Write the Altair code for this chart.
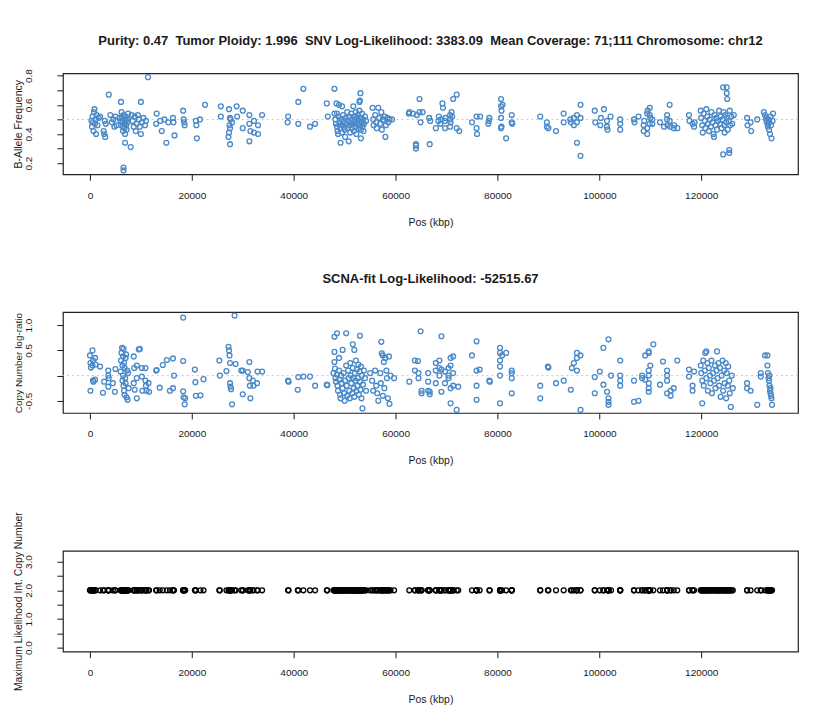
import altair as alt
import pandas as pd

NB = "\u00a0"
TITLE_TOP = ("Purity: 0.47" + NB + " Tumor Ploidy: 1.996" + NB + " SNV Log-Likelihood: 3383.09" + NB
             + " Mean Coverage: 71;111 Chromosome: chr12")
TITLE_MID = "SCNA-fit Log-Likelihood: -52515.67"
X_TITLE = "Pos (kbp)"
Y_TITLES = ["B-Allele Frequency", "Copy Number log-ratio", "Maximum Likelihood Int. Copy Number"]

x_ticks = [0, 20000, 40000, 60000, 80000, 100000, 120000]
baf_ticks = [0.2, 0.3, 0.4, 0.5, 0.6, 0.7, 0.8]
lr_ticks = [-0.5, 0.0, 0.5, 1.0]
cn_ticks = [0.0, 0.5, 1.0, 1.5, 2.0, 2.5, 3.0]

# B-allele frequency points (position kbp, value)
baf_pos = [
    300, 400, 500, 600, 700, 800, 900, 1000, 1100, 1200, 1300, 1500, 1700, 2000, 2700, 2800, 3000, 3100, 2900,
    3700, 4000, 4300, 4600, 5000, 5200, 4800, 5800, 6000, 6100, 6100, 6200, 6300, 6400, 6500, 6500, 6600, 6700,
    6800, 6800, 6900, 7000, 7000, 7100, 7200, 7300, 7400, 7500, 6900, 6600, 6600, 8000, 8200, 8400, 8600, 8800,
    9000, 9200, 9400, 9600, 9800, 10000, 10200, 10500, 10800, 11000, 10000, 11400,
    13100, 13000, 13800, 14100, 14600, 15000, 15400, 16300, 16400, 16600, 18300, 18400, 18500, 18600, 20800,
    20900, 21000, 21600, 22600, 25700, 25700, 27300, 27500, 27600, 27400, 27500, 27300, 27200, 27500, 27900,
    28800, 28900, 30000, 30000, 31300, 31300, 31500, 31300, 32200, 32200, 33000, 33000, 33800,
    38900, 38800, 40900, 40900, 41900, 43200, 44200, 46500, 46700,
    48000, 48400, 48900, 49500, 48000, 48500, 51700, 53100, 53000, 52900, 49200, 50800, 53200,
    48200, 48300, 48500, 48600, 48700, 48800, 49000, 49100, 49300, 49400, 49500, 49700, 49800, 49900, 50000,
    50100, 50200, 50300, 50500, 50600, 50700, 50900, 51000, 51100, 51200, 51300, 51400, 51500, 51600, 51800,
    51900, 52000, 52100, 52200, 52300, 52400, 52500, 52600, 52700, 52800, 52900, 53000, 53100, 53200, 53300,
    53400, 53500, 53600, 53700, 53800, 54000, 54200,
    55500, 55600, 55700, 56000, 56200, 56300, 56600, 56800, 57000, 57200, 57300, 57500, 57700, 57900, 58000,
    58100, 58400, 58600, 58800, 59300,
    62600, 62700, 63400, 64000, 64000, 64000, 64200, 64700, 64700, 64900, 65300, 66700, 66600, 66800, 67900,
    68400, 68500, 68800, 68900, 69200, 69300, 69700, 69700, 69800, 70700, 70700, 70800, 70700, 71000, 71100,
    71300, 72000, 72000, 72500,
    75000, 75900, 75900, 76000, 76600, 78200, 78300, 78400, 80700, 80700, 80800, 80700, 80800, 80700, 81000,
    81700, 82800, 82800, 82900,
    88400, 89700, 89700, 90000, 91500, 93000, 93000, 94300, 94400, 95000, 95000, 95600, 95600, 95600, 96300,
    96300, 96300,
    99100, 99200, 100200, 100300, 100900, 101500, 101500, 101600, 102200, 104100, 104100, 104100, 106800,
    106900, 107700, 108700, 108700, 108800, 109400, 109400, 109500, 109400, 109900, 109900, 110000, 109900,
    110400, 110400, 111900, 112700, 113300, 113300, 113400, 113800, 113800, 113900, 114600, 114700, 115300,
    117600, 117700, 118300, 118600, 118700, 119900, 120000, 120200, 120300, 120500, 120700, 120800, 121000,
    121200, 121300, 121500, 121700, 121900, 122000, 122200, 122400, 122600, 122800, 123000, 123100, 123300,
    123500, 123700, 123800, 124000, 124200, 124300, 124400, 124500, 124600, 124700, 124900, 125000, 125000,
    125100, 125100, 125200, 125400, 125600, 125700, 125900, 126100, 124300, 125500, 125500, 126400, 122500,
    129000, 129100, 129700, 129800, 131000, 132300, 132500, 132700, 132800, 133000, 133100, 133200, 133300,
    133400, 133500, 133600, 133700, 133800, 134000, 134100,
]
baf_val = [
    .49, .45, .52, .48, .42, .55, .57, .47, .50, .40, .53, .46, .51, .52, .42, .40, .38, .47, .49,
    .67, .53, .48, .50, .52, .46, .45, .51, .49, .46, .62, .55, .51, .48, .45, .42, .53, .50,
    .47, .44, .40, .52, .49, .46, .43, .50, .48, .54, .34, .17, .15, .31, .53, .49, .45, .52,
    .42, .47, .53, .50, .45, .40, .48, .51, .46, .49, .62, .79,
    .54, .47, .49, .42, .50, .34, .48, .51, .48, .39, .56, .50, .48, .46, .49,
    .46, .37, .50, .60, .59, .52, .57, .51, .50, .46, .44, .41, .38, .33, .48,
    .59, .52, .56, .44, .53, .47, .42, .35, .49, .41, .46, .40, .53,
    .52, .48, .62, .47, .71, .45, .47, .61, .52,
    .71, .61, .60, .59, .54, .54, .59, .68, .63, .62, .34, .35, .37,
    .50, .47, .45, .42, .40, .52, .48, .44, .50, .46, .41, .53, .49, .45, .43,
    .38, .51, .47, .55, .44, .49, .52, .46, .41, .48, .54, .44, .50, .47, .42,
    .52, .49, .45, .55, .40, .51, .47, .53, .44, .49, .56, .46, .51, .43, .48,
    .54, .45, .50, .42, .47, .52, .49,
    .58, .50, .46, .53, .48, .44, .58, .51, .47, .55, .43, .50, .49, .52, .38,
    .46, .51, .48, .50, .50,
    .54, .55, .54, .32, .30, .33, .53, .64, .55, .48, .55, .33, .51, .49, .44,
    .49, .52, .47, .50, .61, .58, .44, .49, .51, .53, .50, .48, .45, .55, .52,
    .64, .67, .44, .42,
    .48, .52, .44, .40, .52, .47, .49, .51, .64, .59, .56, .51, .45, .44, .60,
    .37, .53, .48, .47,
    .52, .48, .45, .44, .42, .54, .48, .50, .48, .51, .46, .53, .48, .34, .60,
    .25, .51,
    .56, .48, .46, .51, .57, .49, .45, .43, .52, .50, .47, .43, .50,
    .48, .52, .46, .42, .49, .40, .54, .56, .44, .58, .53, .51, .47,
    .50, .47, .48, .45, .53, .50, .46, .60, .49, .45, .44, .46, .44,
    .53, .49, .47, .45, .48, .56, .51, .46, .41, .54, .49, .44, .57,
    .52, .47, .42, .50, .45, .55, .48, .40, .53, .46, .51, .43, .49,
    .56, .47, .52, .44, .50, .72, .55, .46, .41, .53, .48, .72, .68,
    .64, .51, .43, .49, .56, .46, .52, .47, .26, .27, .29, .53, .38,
    .51, .46, .48, .42, .50, .55, .53, .51, .49, .47, .45, .50, .43,
    .48, .40, .52, .46, .37, .49, .54,
]

# Copy-number log-ratio points (position kbp, value)
lr_pos = [
    0, 100, 200, 100, 500, 600, 500, 600, 700, 1000, 1100, 1000, 2000, 2550, 2800, 3600, 3600, 3700, 3600,
    4500, 4900, 5000,
    6000, 6100, 6200, 6300, 6400, 6400, 6500, 6500, 6600, 6600, 6700, 6700, 6800, 6800, 6900, 7000, 7000,
    7100, 7200, 7300, 7400, 7500, 7600,
    8600, 8600, 8700, 8800, 9200, 9200, 9200, 9600, 9800, 10200, 10200, 10300, 10900, 10900, 11000, 11100,
    11500, 11600, 13100, 13000, 13700, 14300, 15100, 15700, 16300, 16300, 16500,
    18300, 18300, 18300, 18400, 18600, 18700, 20600, 20700, 20800, 21700, 22300,
    25400, 25500, 26800, 27200, 27300, 27400, 27500, 27500, 27600, 27700, 27900, 28400, 28600, 29700, 30000,
    30000, 31000, 31300, 31400, 31300, 31500, 32000, 32100, 32900, 32800, 33800,
    38900, 39000, 40900, 40800, 41900, 43200, 44200, 46500, 46600,
    47800, 48000, 48000, 48000, 48100, 48200, 48300, 48500, 48500, 48600, 48700, 48900, 48900, 49000, 49100,
    49200, 49300, 49400, 49600, 49600, 49800, 49900, 50000, 50100, 50300, 50300, 50400, 50500, 50700, 50800,
    50900, 51000, 51100, 51200, 51300, 51500, 51600, 51600, 51700, 51800, 51900, 51900, 52000, 52100, 52200,
    52300, 52400, 52500, 52600, 52700, 52800, 52900, 53000, 53000, 53100, 53200, 53300, 53400, 53500, 53600,
    53800, 54000, 54200,
    55000, 55400, 55600, 56000, 56200, 56400, 56600, 57000, 57100, 57200, 57300, 57500, 57500, 57700, 57800,
    58000, 58200, 58300, 58500, 58700, 58800, 59000, 59700,
    62700, 63800, 63800, 64400, 64500, 64500, 64900, 65100, 65100, 66400, 66400, 66400, 66700, 66700, 67900,
    67900, 67900, 68600, 68600, 68600, 69000, 69000, 69000, 69700, 69700, 70400, 70400, 70400, 70800, 70800,
    70800, 70800, 71300, 71300, 71300, 72000, 72300,
    75000, 75900, 75900, 75900, 75900, 76500, 78400, 78500, 80500, 80500, 80500, 80500, 80500, 80500, 80900,
    81700, 82800, 82800, 82800, 82800,
    88400, 88400, 89900, 90000, 91500, 93000, 94400, 94600, 95000, 95600, 95600, 95600, 96300, 96300,
    99100, 99100, 100100, 100800, 100800, 101500, 101800, 101800, 101800, 101800, 102300, 104100, 104100,
    104100, 104100, 106800, 106800, 107700, 108400, 108400, 109000, 109000, 109700, 109700, 109700, 109700,
    109700, 109700, 109700, 110000, 110600, 111900, 112500, 113300, 113300, 113300, 113300, 114000, 114000,
    114600, 115300,
    117600, 117600, 118300, 118300, 118600, 120200, 119900, 120000, 120200, 120400, 120500, 120700, 120800,
    121000, 121000, 121200, 121300, 121500, 121700, 121800, 122000, 122100, 122300, 122500, 122700, 122800,
    123000, 123100, 123200, 123400, 123500, 123700, 123800, 124000, 124200, 124300, 124500, 124600, 124800,
    124900, 125000, 125200, 125300, 125500, 125600, 125800, 126000, 126200,
    129000, 129000, 129700, 131000, 131700, 131700, 132500, 133000, 133000, 133100, 133200, 133300, 133400,
    133500, 133600, 133700, 133800, 133900, 133400, 133600,
]
lr_val = [
    .40, .25, .16, -.30, .50, .30, .20, -.10, -.12, .35, .22, -.08, .18, -.34, -.12, .10, .0, -.05, -.22,
    -.15, -.32, .13,
    .08, .30, .45, .55, .20, -.10, .38, .0, .53, -.20, .25, -.30, .15, -.38, -.05, .35, -.15, .42, -.43,
    .10, -.48, .05, -.25,
    .38, -.15, .15, -.28, .20, -.05, -.45, .52, .53, .15, -.02, -.30, .15, -.10, -.20, -.30,
    -.15, -.32, .11, .10, -.24, .21, .31, -.30, .34, -.25, .0,
    1.15, .29, -.31, -.43, -.57, -.45, .12, -.13, -.40, -.39, -.07,
    .30, .0, .09, .57, .50, .40, .25, -.15, -.22, -.27, -.57, 1.19, .23, .10, .10,
    -.37, .07, .27, -.20, -.05, -.45, -.10, -.20, .08, -.15, .08,
    -.10, -.12, -.03, -.28, -.02, -.02, -.20, -.18, -.19,
    .05, .77, .47, .27, .14, -.05, -.12, .84, .02, -.20, -.30, .35, .10, -.08, -.38,
    -.45, .0, -.15, .51, -.25, .05, -.35, -.50, -.10, .84, .20, -.20, -.40, .10, -.05,
    -.30, -.45, .25, .0, -.15, -.35, .62, .15, -.05, -.25, .51, -.42, .05, -.10, .30,
    -.30, .12, -.20, -.05, .22, -.38, .08, .79, -.12, -.28, .18, -.45, .0, -.65, -.18,
    .10, -.05, -.30,
    .05, -.10, -.30, .10, -.20, -.35, -.50, .05, -.15, .67, .44, .40, -.40, .27, -.25,
    .35, .10, -.05, -.45, .38, -.56, .0, -.05,
    -.12, .10, .30, .29, .05, -.05, .88, -.30, -.35, .05, -.12, -.30, -.32, -.37, .25,
    .10, -.15, .30, .15, .0, .78, .12, -.32, .08, -.15, .15, .0, -.05, .35, .20,
    -.25, -.55, .38, .05, -.20, -.68, -.22,
    .40, .68, .10, -.20, -.48, .12, -.10, -.12, .55, .45, .30, .18, .0, -.55, .40,
    .45, .10, .05, -.05, -.35,
    -.45, -.20, .18, .16, -.15, -.10, -.28, .15, .25, .10, .35, .45, .40, -.68,
    -.03, -.35, .08, .55, -.18, -.32, .72, -.45, -.52, -.58, .0, .30, .0,
    -.10, -.20, -.52, -.10, -.50, -.05, .0, .40, -.08, .45, .48, .10, .0,
    -.15, -.25, -.32, .20, .62, -.18, .28, .10, .0, -.10, -.35, -.40, -.30,
    -.25, .30,
    .12, -.02, -.20, -.30, .08, -.55, .20, .05, -.10, .30, -.20, .10, .45,
    .48, -.05, .25, -.30, .15, .0, -.15, .30, -.35, .05, -.10, .20, -.25,
    .10, .48, -.05, .25, -.20, .15, -.42, .0, .30, -.30, .10, -.15, .25,
    -.45, .05, -.20, .18, -.10, -.35, -.62, .0, -.25,
    -.15, -.25, -.30, -.58, -.02, .05, .40, .40, .20, .05, -.05, -.10, -.20,
    -.30, -.35, -.40, -.45, -.58, .0, -.25,
]

# Maximum-likelihood integer copy number: every segment sits at 2
cn_level = 2.0

X_DOMAIN = [-5300, 139000]
BAF_DOMAIN = [0.124, 0.816]
LR_DOMAIN = [-0.74, 1.26]
CN_DOMAIN = [-0.14, 3.38]

FONT = "Liberation Sans"
TXT = "#1a1a1a"
BLUE = "#4a89c8"
REF = "#cfc3c3"

baf_df = pd.DataFrame({"pos": baf_pos, "val": baf_val})
lr_df = pd.DataFrame({"pos": lr_pos, "val": lr_val})
cn_df = pd.DataFrame({"pos": lr_pos, "val": [cn_level for _ in lr_pos]})

W, H = 736, 101


def x_enc():
    return alt.X(
        "pos:Q",
        scale=alt.Scale(domain=X_DOMAIN, nice=False, zero=False),
        axis=alt.Axis(
            values=x_ticks, format="d", title=X_TITLE, grid=False, domain=False,
            tickSize=6, tickColor=TXT, labelPadding=10, labelFontSize=10, labelColor=TXT,
            labelFont=FONT, titleFont=FONT, titleFontSize=10.5, titleFontWeight="normal",
            titleColor=TXT, titlePadding=17,
        ),
    )


def y_axis(ticks, label_expr, title, title_size):
    return alt.Axis(
        values=ticks, labelExpr=label_expr, title=title, grid=False, domain=False,
        tickSize=6, tickColor=TXT, labelAngle=270, labelAlign="center", labelBaseline="bottom",
        labelPadding=23, labelFontSize=10, labelColor=TXT, labelFont=FONT, labelOverlap=False,
        labelBound=False,
        titleFont=FONT, titleFontSize=title_size, titleFontWeight="normal", titleColor=TXT,
        titlePadding=0,
    )


def panel(df, domain, ticks, label_expr, ytitle, title_size, color, ref=None, title=None, toff=17):
    axis = y_axis(ticks, label_expr, ytitle, title_size)
    scale = alt.Scale(domain=domain, nice=False, zero=False)
    pts = alt.Chart(df).mark_point(
        shape="circle", filled=False, size=24, strokeWidth=1.3, color=color, opacity=1
    ).encode(x=x_enc(), y=alt.Y("val:Q", scale=scale, axis=axis))
    layers = [pts]
    if ref is not None:
        rule = alt.Chart(df.head(1)).mark_rule(color=REF, strokeDash=[2, 3], strokeWidth=1).encode(
            y=alt.YDatum(ref, scale=scale, axis=axis)
        )
        layers = [rule, pts]
    props = dict(width=W, height=H)
    if title is not None:
        props["title"] = alt.TitleParams(
            title, frame="group", anchor="middle", baseline="middle", offset=toff,
            fontSize=13, fontWeight="bold", font=FONT, color=TXT,
        )
    return alt.layer(*layers).properties(**props)


p1 = panel(
    baf_df, BAF_DOMAIN, baf_ticks,
    "round(datum.value * 10) % 2 == 0 ? format(datum.value, '.1f') : ''",
    Y_TITLES[0], 10.5, BLUE, ref=0.5, title=TITLE_TOP, toff=15,
)
p2 = panel(
    lr_df, LR_DOMAIN, lr_ticks,
    "datum.value == 0 ? '' : (datum.value == 1 ? '1.0' : '' + datum.value)",
    Y_TITLES[1], 10, BLUE, ref=0.0, title=TITLE_MID, toff=19,
)
p3 = panel(
    cn_df, CN_DOMAIN, cn_ticks,
    "round(datum.value * 2) % 2 == 0 ? format(datum.value, '.1f') : ''",
    Y_TITLES[2], 10.4, "#000000",
)

chart = alt.vconcat(p1, p2, p3, spacing=138, bounds="flush").properties(
    padding={"top": 25, "left": 5, "right": 5, "bottom": 5}, background="white"
).configure_view(stroke="#222222", strokeWidth=1.2)

chart.save("out.html", embed_options={"renderer": "svg", "actions": False})
